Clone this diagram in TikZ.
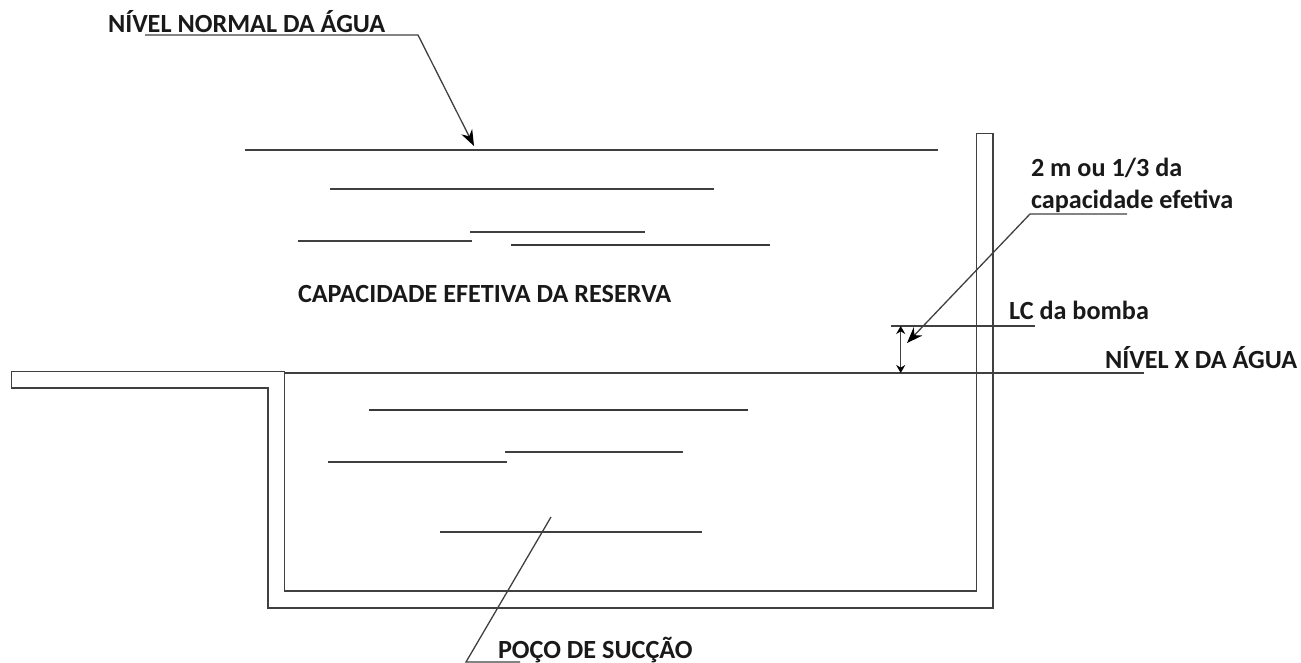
\documentclass[tikz,border=0pt]{standalone}
\usepackage{fontspec}
\setmainfont{Carlito}
\usetikzlibrary{arrows.meta}
\definecolor{ink}{gray}{0.25}
\tikzset{
  line/.style={draw=ink,line width=1.3pt},
  thick line/.style={draw=ink!90!black,line width=1.7pt},
  lab/.style={anchor=base west,inner sep=0pt,outer sep=0pt,font=\bfseries\fontsize{26.2}{30}\selectfont,text=black!90},
  tip/.style={-{Stealth[length=16pt,width=12pt,color=black]}},
  dim/.style={{Stealth[length=8pt,width=9pt,color=black]}-{Stealth[length=8pt,width=9pt,color=black]}}
}
\begin{document}
\begin{tikzpicture}[x=1pt,y=-1pt]
\useasboundingbox (0,0) rectangle (1301,663);
% labels
\node[lab] (normal) at (108,33) {NÍVEL NORMAL DA ÁGUA};
\node[lab] (cap) at (298,302) {CAPACIDADE EFETIVA DA RESERVA};
\node[lab] (dois) at (1031,177) {2 m ou 1/3 da};
\node[lab] (capef) at (1031,208) {capacidade efetiva};
\node[lab] (lc) at (1009,319) {LC da bomba};
\node[lab] (nivelx) at (1105,368) {NÍVEL X DA ÁGUA};
\node[lab] (poco) at (498,658) {POÇO DE SUCÇÃO};
% tank wall
\draw[line,line join=miter] (284.5,371.5) -- (284.5,591) -- (976.5,591) -- (976.5,133.5) -- (993,133.5) -- (993,608) -- (268,608) -- (268,388) -- (11.5,388) -- (11.5,371.5) -- cycle;
% water surface lines
\draw[line] (245,150) -- (938,150);
\draw[line] (330,189) -- (714,189);
\draw[line] (298,241) -- (472,241);
\draw[line] (470,232) -- (645,232);
\draw[thick line] (511,245) -- (770,245);
\draw[thick line] (369,410) -- (748,410);
\draw[line] (328,462) -- (507,462);
\draw[line] (505,452) -- (683,452);
\draw[line] (440,532) -- (702,532);
% level lines
\coordinate (xa) at (284.5,373);
\coordinate (xb) at (1144,373);
\coordinate (lca) at (891,326);
\coordinate (lcb) at (1035,326);
\draw[line] (xa) -- (xb);
\draw[line] (lca) -- (lcb);
% dimension
\coordinate (da) at (900.7,326);
\coordinate (db) at (900.7,373);
\draw[line,dim] (da) -- (db);
% leaders
\coordinate (n1) at (145,35);
\coordinate (n2) at (418,35);
\coordinate (n3) at (474,146);
\draw[line,tip,line join=miter] (n1) -- (n2) -- (n3);
\coordinate (c1) at (1127,214);
\coordinate (c2) at (1030,214);
\coordinate (c3) at (907,343);
\draw[line,tip,line join=miter] (c1) -- (c2) -- (c3);
\coordinate (p1) at (551,517);
\coordinate (p2) at (466,662);
\coordinate (p3) at (520,662);
\draw[line,line join=miter] (p1) -- (p2) -- (p3);
\end{tikzpicture}
\end{document}
